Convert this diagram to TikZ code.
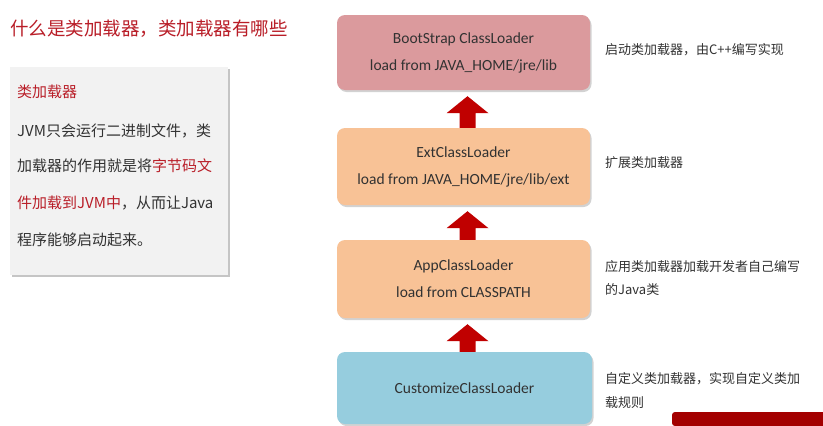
\documentclass[tikz,border=0pt]{standalone}
\usepackage{fontspec}
\setmainfont{Carlito}
\newfontfamily\cjk{Noto Sans CJK SC}
\usetikzlibrary{shadows,calc}
\definecolor{titlered}{RGB}{185,30,40}
\definecolor{bootc}{RGB}{219,154,157}
\definecolor{extc}{RGB}{248,194,150}
\definecolor{custc}{RGB}{150,205,222}
\definecolor{arrred}{RGB}{192,0,0}
\definecolor{txt}{RGB}{50,50,50}
\definecolor{panel}{RGB}{242,242,242}
\tikzset{
  loaderbox/.style={draw=none, rounded corners=8pt, minimum width=253pt, inner sep=0pt,
    text=txt, font=\fontsize{15.5}{18}\selectfont, align=center,
    drop shadow={shadow xshift=1.5pt, shadow yshift=-2pt, opacity=0.35, fill=gray}},
  note/.style={anchor=west, inner sep=0pt, text=txt, font=\cjk\fontsize{13}{15}\selectfont},
  paneltxt/.style={anchor=west, inner sep=0pt, text=txt, font=\cjk\fontsize{15}{17}\selectfont},
}
\newcommand\blockarrow[2]{%
  \path let \p1=($(#1.south)+(4,0)$), \p2=($(#2.north)+(4,0)$) in
    [fill=arrred] (\x1,\y1-6pt) -- (\x1+21pt,\y1-23pt) -- (\x1+8pt,\y1-23pt) -- (\x1+8pt,\y2)
    -- (\x1-8pt,\y2) -- (\x1-8pt,\y1-23pt) -- (\x1-21pt,\y1-23pt) -- cycle;}
\begin{document}
\begin{tikzpicture}[x=1pt,y=-1pt]
\useasboundingbox (0,0) rectangle (823,426);
\fill[white] (0,0) rectangle (823,426);
% title
\node[anchor=west, inner sep=0pt, text=titlered, font=\cjk\fontsize{18.5}{20}\selectfont] (title) at (10,29) {什么是类加载器，类加载器有哪些};
% left panel
\node[fill=panel, minimum width=218pt, minimum height=208pt, inner sep=0pt,
  drop shadow={shadow xshift=2pt, shadow yshift=-2pt, opacity=0.45, fill=gray}] (panel) at (119,171) {};
\node[paneltxt, text=titlered] (ph) at (17,92) {类加载器};
\node[paneltxt] (p1) at (17,131) {JVM只会运行二进制文件，类};
\node[paneltxt] (p2) at (17,166) {加载器的作用就是将{\color{titlered}字节码文}};
\node[paneltxt] (p3) at (17,203) {{\color{titlered}件加载到JVM中}，从而让Java};
\node[paneltxt] (p4) at (17,240) {程序能够启动起来。};
% loader boxes
\node[loaderbox, fill=bootc, minimum height=75pt] (boot) at (463.5,52.5) {BootStrap ClassLoader\\[9pt]load from JAVA\_HOME/jre/lib};
\node[loaderbox, fill=extc, minimum height=77pt] (ext) at (463.5,166.5) {ExtClassLoader\\[9pt]load from JAVA\_HOME/jre/lib/ext};
\node[loaderbox, fill=extc, minimum height=78pt] (app) at (463.5,279) {AppClassLoader\\[9pt]load from CLASSPATH};
\node[loaderbox, fill=custc, minimum height=72pt, minimum width=255pt] (cust) at (464.5,388) {CustomizeClassLoader};
% arrows
\blockarrow{boot}{ext}
\blockarrow{ext}{app}
\blockarrow{app}{cust}
% notes
\node[note] (n1) at (605,50) {启动类加载器，由C++编写实现};
\node[note] (n2) at (605,163) {扩展类加载器};
\node[note] (n3) at (605,267) {应用类加载器加载开发者自己编写};
\node[note] (n3b) at (605,290) {的Java类};
\node[note] (n4) at (605,379) {自定义类加载器，实现自定义类加};
\node[note] (n4b) at (605,403) {载规则};
% bottom-right banner
\fill[arrred!85!black, rounded corners=3pt] (672,426) -- (672,412) -- (830,412) -- (830,426) -- cycle;
\end{tikzpicture}
\end{document}
